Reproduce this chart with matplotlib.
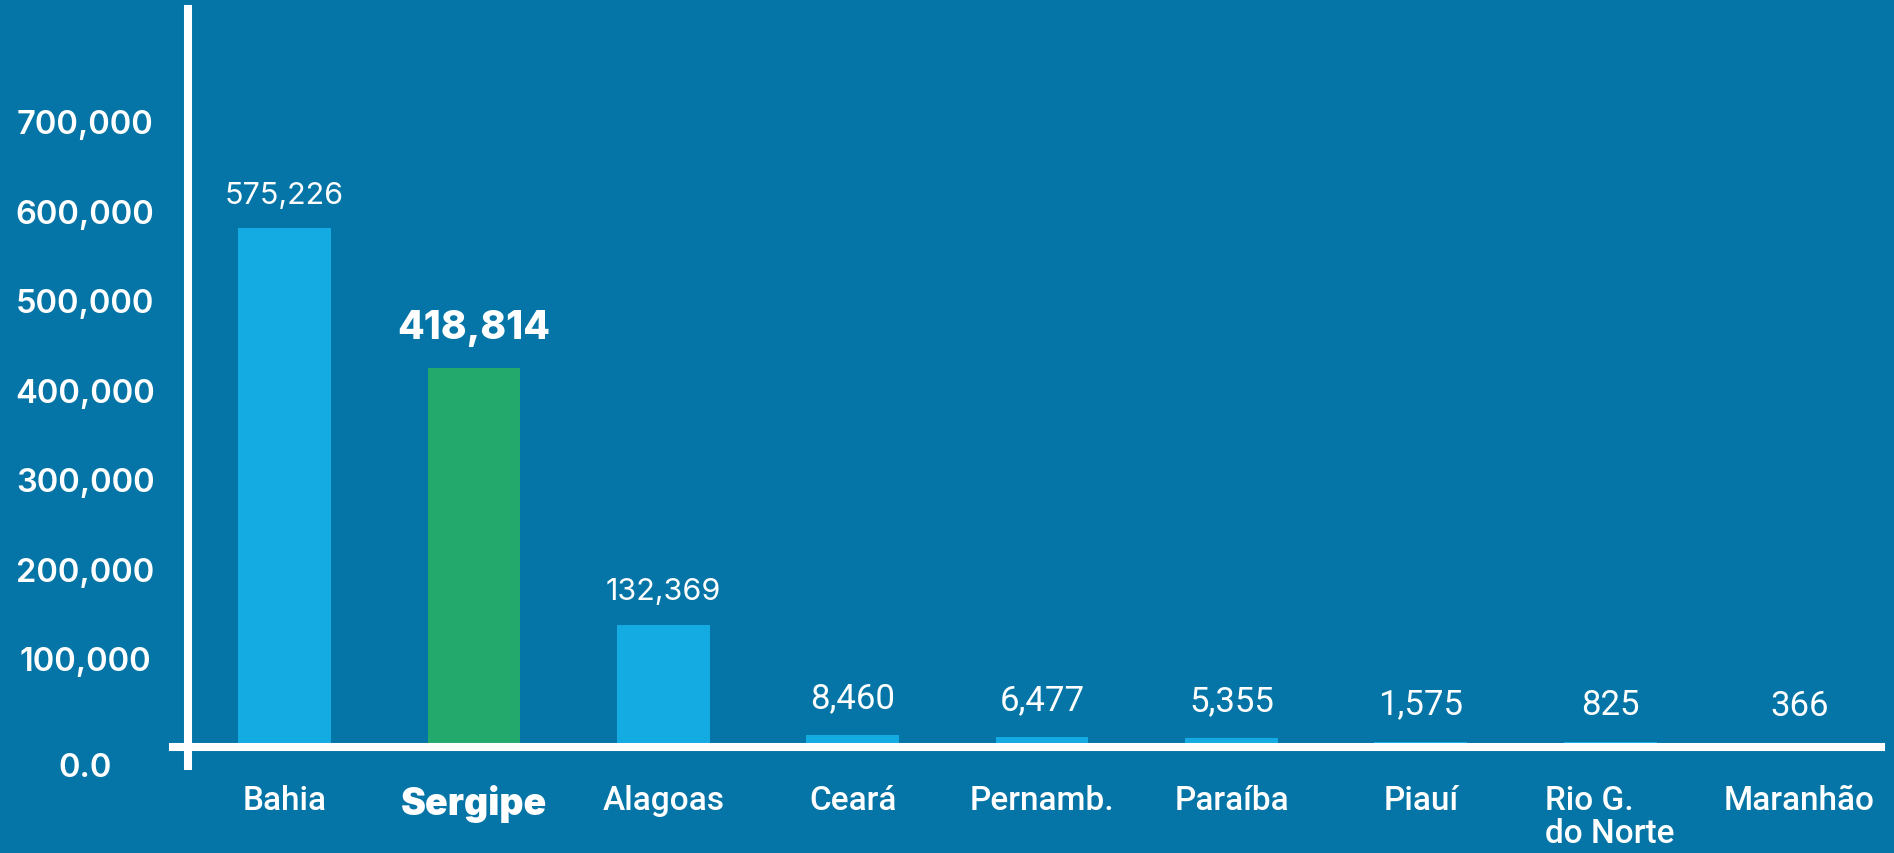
# Gráfico de barras: produção por estado do Nordeste (Sergipe em destaque)

import matplotlib
matplotlib.use('Agg')
import matplotlib.pyplot as plt
import matplotlib.transforms as mtransforms

# --- Dados ---
estados = ['Bahia', 'Sergipe', 'Alagoas', 'Ceará', 'Pernamb.', 'Paraíba',
           'Piauí', 'Rio G.\ndo Norte', 'Maranhão']
valores = [575226, 418814, 132369, 8460, 6477, 5355, 1575, 825, 366]
destaque = 'Sergipe'

ticks_y = [0, 100000, 200000, 300000, 400000, 500000, 600000, 700000]
rotulos_y = ['0.0', '100,000', '200,000', '300,000', '400,000',
             '500,000', '600,000', '700,000']

# --- Cores ---
COR_FUNDO = '#0475A6'
COR_BARRA = '#13ABE2'
COR_DESTAQUE = '#24A96C'
BRANCO = '#FFFFFF'


def gerar_grafico():
    W, H = 1894, 854
    fig = plt.figure(figsize=(W / 100, H / 100), dpi=100, facecolor=COR_FUNDO)

    # posição do eixo em pixels (esq, dir, baixo, cima)
    x0, x1, y_baixo, y_cima = 188, 1881, 767, 10
    ax = fig.add_axes([x0 / W, 1 - y_baixo / H, (x1 - x0) / W, (y_baixo - y_cima) / H])
    ax.set_facecolor(COR_FUNDO)

    posicoes = list(range(len(estados)))
    cores = [COR_DESTAQUE if e == destaque else COR_BARRA for e in estados]
    ax.bar(posicoes, valores, width=0.49, color=cores, zorder=2)

    ax.set_xlim(-0.51, 8.43)
    ax.set_ylim(-25700, 820000)

    # --- Rótulos de valor acima das barras ---
    for x, v, e in zip(posicoes, valores, estados):
        if e == destaque:
            ax.annotate(f'{v:,}', (x, v), xytext=(0, 29), textcoords='offset points',
                        ha='center', va='center', color=BRANCO, fontsize=28,
                        fontweight='heavy', family='Inter')
        elif v > 100000:
            # barras grandes: fonte mais larga
            ax.annotate(f'{v:,}', (x, v), xytext=(0, 24), textcoords='offset points',
                        ha='center', va='center', color=BRANCO, fontsize=22,
                        family='Inter')
        else:
            ax.annotate(f'{v:,}', (x, v), xytext=(0, 27), textcoords='offset points',
                        ha='center', va='center', color=BRANCO, fontsize=25,
                        family='Roboto')

    # --- Eixo Y ---
    ax.set_yticks(ticks_y)
    ax.set_yticklabels(rotulos_y, fontsize=23.5, fontweight='semibold',
                       family='Inter', color=BRANCO)
    ax.tick_params(axis='y', length=0, pad=74)
    for rotulo in ax.get_yticklabels():
        rotulo.set_horizontalalignment('center')
        desloc = -21 if rotulo.get_text() == '0.0' else -5
        rotulo.set_transform(rotulo.get_transform() +
                             mtransforms.ScaledTranslation(0, desloc / 100, fig.dpi_scale_trans))

    # --- Eixo X ---
    ax.set_xticks(posicoes)
    ax.set_xticklabels(estados, fontsize=24, fontweight='medium',
                       family='Roboto', color=BRANCO, va='top')
    ax.tick_params(axis='x', length=0, pad=13)
    for rotulo in ax.get_xticklabels():
        rotulo.set_multialignment('left')
        rotulo.set_linespacing(1.05)
        if rotulo.get_text() == destaque:
            rotulo.set_fontweight('black')
            rotulo.set_fontsize(27)
            rotulo.set_family('Inter')

    # --- Linhas brancas dos eixos ---
    for lado in ['top', 'right', 'bottom']:
        ax.spines[lado].set_visible(False)
    ax.spines['left'].set_color(BRANCO)
    ax.spines['left'].set_linewidth(5.8)
    ax.axhline(-4500, xmin=-0.009, xmax=1.0, color=BRANCO, linewidth=5.8,
               clip_on=False, zorder=3)

    fig.savefig('out.png', dpi=100, facecolor=COR_FUNDO)


if __name__ == "__main__":
    gerar_grafico()
